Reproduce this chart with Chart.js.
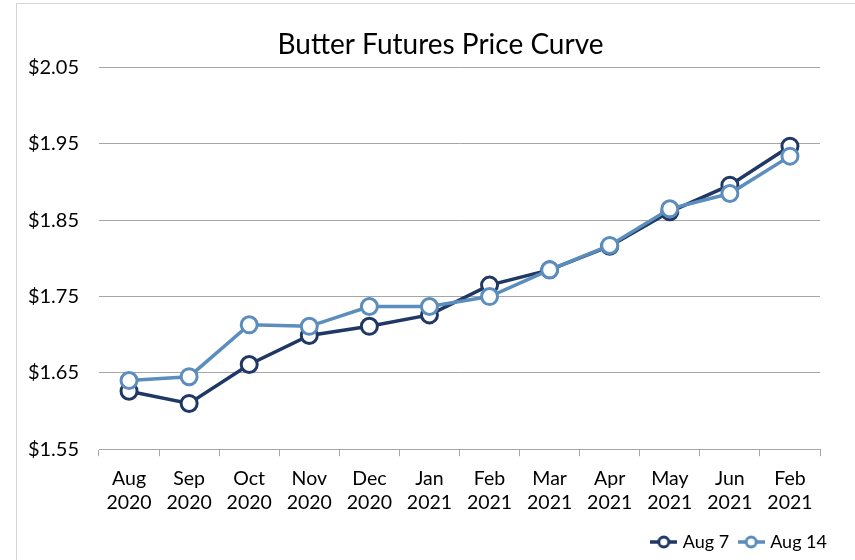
<!DOCTYPE html>
<html>
<head>
<meta charset="utf-8">
<script src="https://cdn.jsdelivr.net/npm/chart.js@4/dist/chart.umd.min.js"></script>
<style>
  body { margin: 0; background: #fff; }
  #wrap { position: absolute; left: 16px; top: 3px; width: 839px; height: 557px;
          border-left: 1px solid #d4d4d4; border-top: 1px solid #d4d4d4; overflow: hidden; }
</style>
</head>
<body>
<div id="wrap"><canvas id="chart" width="838" height="556"></canvas></div>
<script>
// contract months (two-line labels)
const months = [
  ['Aug', '2020'], ['Sep', '2020'], ['Oct', '2020'], ['Nov', '2020'],
  ['Dec', '2020'], ['Jan', '2021'], ['Feb', '2021'], ['Mar', '2021'],
  ['Apr', '2021'], ['May', '2021'], ['Jun', '2021'], ['Feb', '2021']
];

// settle prices, $/lb
const aug7  = [1.626, 1.610, 1.661, 1.699, 1.711, 1.726, 1.765, 1.785, 1.816, 1.861, 1.896, 1.947];
const aug14 = [1.640, 1.645, 1.713, 1.711, 1.737, 1.737, 1.750, 1.785, 1.817, 1.865, 1.885, 1.934];

const yTicks = [1.55, 1.65, 1.75, 1.85, 1.95, 2.05];

const NAVY = '#1f3864';
const LIGHT = '#5b8dbd';
const FONT = 'Lato, "Open Sans", sans-serif';

// little line+circle swatch for the legend, like Excel's
function swatch(color) {
    const c = document.createElement('canvas');
    c.width = 27; c.height = 16;
    const ctx = c.getContext('2d');
    ctx.strokeStyle = color;
    ctx.lineWidth = 3.5;
    ctx.beginPath();
    ctx.moveTo(0, 8); ctx.lineTo(27, 8);
    ctx.stroke();
    ctx.fillStyle = '#fff';
    ctx.lineWidth = 3;
    ctx.beginPath();
    ctx.arc(13.5, 8, 5, 0, Math.PI * 2);
    ctx.fill();
    ctx.stroke();
    return c;
}

const series = [
    { label: 'Aug 7', data: aug7, color: NAVY, order: 1 },
    { label: 'Aug 14', data: aug14, color: LIGHT, order: 0 }
];

// Excel centres the title on the whole frame and pushes the legend right; nudge them
const nudge = {
    id: 'nudge',
    afterLayout(chart) {
        const t = chart.titleBlock;
        t.left += 22; t.right += 22;
        const l = chart.legend;
        l.left += 19; l.right += 19;
        l.top += 1; l.bottom += 1;
    }
};

new Chart(document.getElementById('chart'), {
    type: 'line',
    data: {
        labels: months,
        datasets: series.map(s => ({
            label: s.label,
            data: s.data,
            order: s.order,
            borderColor: s.color,
            borderWidth: 3.5,
            pointBackgroundColor: '#fff',
            pointBorderColor: s.color,
            pointBorderWidth: 3,
            pointRadius: 8,
            pointHoverRadius: 8,
            tension: 0
        }))
    },
    options: {
        responsive: false,
        animation: false,
        events: [],
        layout: { padding: { left: 0, right: 35, bottom: 0 } },
        plugins: {
            title: {
                display: true,
                text: 'Butter Futures Price Curve',
                color: '#000',
                font: { family: FONT, size: 28, weight: 'normal' },
                padding: { top: 24, bottom: 6 }
            },
            legend: {
                position: 'bottom',
                align: 'end',
                labels: {
                    color: '#000',
                    font: { family: FONT, size: 18 },
                    usePointStyle: true,
                    pointStyleWidth: 20,
                    padding: 12,
                    generateLabels: () => series.map((s, i) => ({
                        text: s.label,
                        pointStyle: swatch(s.color),
                        fillStyle: s.color,
                        strokeStyle: s.color,
                        lineWidth: 0,
                        datasetIndex: i,
                        fontColor: '#000'
                    }))
                }
            },
            tooltip: { enabled: false }
        },
        scales: {
            x: {
                offset: true,
                afterFit: axis => { axis.height -= 5; },
                grid: { offset: true, drawOnChartArea: false, tickLength: 7, color: '#a6a6a6' },
                border: { color: '#a6a6a6', width: 1 },
                ticks: { color: '#000', font: { family: FONT, size: 19.5, lineHeight: 1.2 }, padding: 11, maxRotation: 0, autoSkip: false }
            },
            y: {
                min: 1.55,
                max: 2.05,
                afterBuildTicks: axis => { axis.ticks = yTicks.map(v => ({ value: v })); },
                afterFit: axis => { axis.width = 82; },
                grid: { color: '#a6a6a6', drawTicks: false },
                border: { display: false },
                ticks: {
                    color: '#000',
                    font: { family: FONT, size: 20 },
                    padding: 20,
                    callback: v => '$' + v.toFixed(2)
                }
            }
        }
    },
    plugins: [nudge]
});
</script>
</body>
</html>
